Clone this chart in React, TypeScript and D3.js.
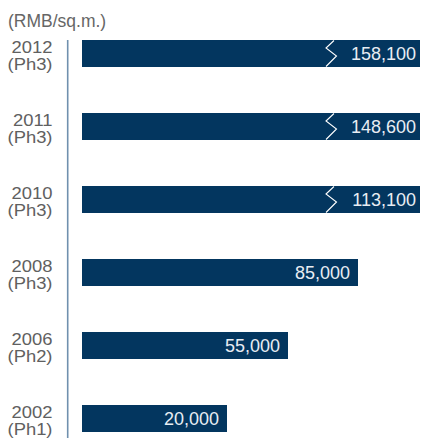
import React from "react";
import * as d3 from "d3";

const years = ["2012", "2011", "2010", "2008", "2006", "2002"];
const phases = ["(Ph3)", "(Ph3)", "(Ph3)", "(Ph3)", "(Ph2)", "(Ph1)"];
const values = [158100, 148600, 113100, 85000, 55000, 20000];
const unitLabel = "(RMB/sq.m.)";

const W = 424;
const H = 438;
const BAR_COLOR = "#03365f";
const FONT = "'Liberation Sans', Arial, Helvetica, sans-serif";

export default function App() {
  const data = years.map((y, i) => ({ year: y, phase: phases[i], value: values[i] }));

  // non-proportional (stepped) scale as in the original; values above the
  // largest unbroken bar are clamped and drawn with a break mark
  const x = d3
    .scaleLinear()
    .domain([0, 20000, 55000, 85000, 113100])
    .range([82, 227, 288, 358, 420])
    .clamp(true);
  const breakThreshold = 100000;

  const y = d3
    .scaleBand()
    .domain(years)
    .range([40, 432])
    .paddingInner(46 / 73)
    .paddingOuter(0);

  const fmt = d3.format(",");
  const bw = y.bandwidth();

  return (
    <svg
      width={W}
      height={H}
      style={{ position: "absolute", left: 0, top: 0, background: "#fff" }}
      fontFamily={FONT}
    >
      <text x={8} y={27} fontSize={17.5} fill="#666">
        {unitLabel}
      </text>
      <line x1={67.7} x2={67.7} y1={40} y2={H} stroke="#7090ae" strokeWidth={1.6} />
      {data.map((d) => {
        const y0 = y(d.year)!;
        const x1 = x(d.value);
        const broken = d.value > breakThreshold;
        const bx = x1 - 94;
        return (
          <g key={d.year}>
            <rect x={x(0)} y={y0} width={x1 - x(0)} height={bw} fill={BAR_COLOR} />
            {broken && (
              <path
                d={`M${bx + 8},${y0 + 0.5} L${bx},${y0 + 8} L${bx + 10.5},${y0 + 16} L${bx},${y0 + 26.5}`}
                fill="none"
                stroke="#ffffff"
                strokeWidth={1.1}
              />
            )}
            <text
              x={x1 - (broken ? 4 : 8)}
              y={y0 + 20}
              textAnchor="end"
              fontSize={18}
              fill="#e8edf3"
            >
              {fmt(d.value)}
            </text>
            <g transform={`translate(52.5,${y0}) scale(1.15,1)`}>
              <text x={0} y={12.7} textAnchor="end" fontSize={16} fill="#606060">
                {d.year}
              </text>
              <text x={0} y={30.3} textAnchor="end" fontSize={16} fill="#606060">
                {d.phase}
              </text>
            </g>
          </g>
        );
      })}
    </svg>
  );
}
